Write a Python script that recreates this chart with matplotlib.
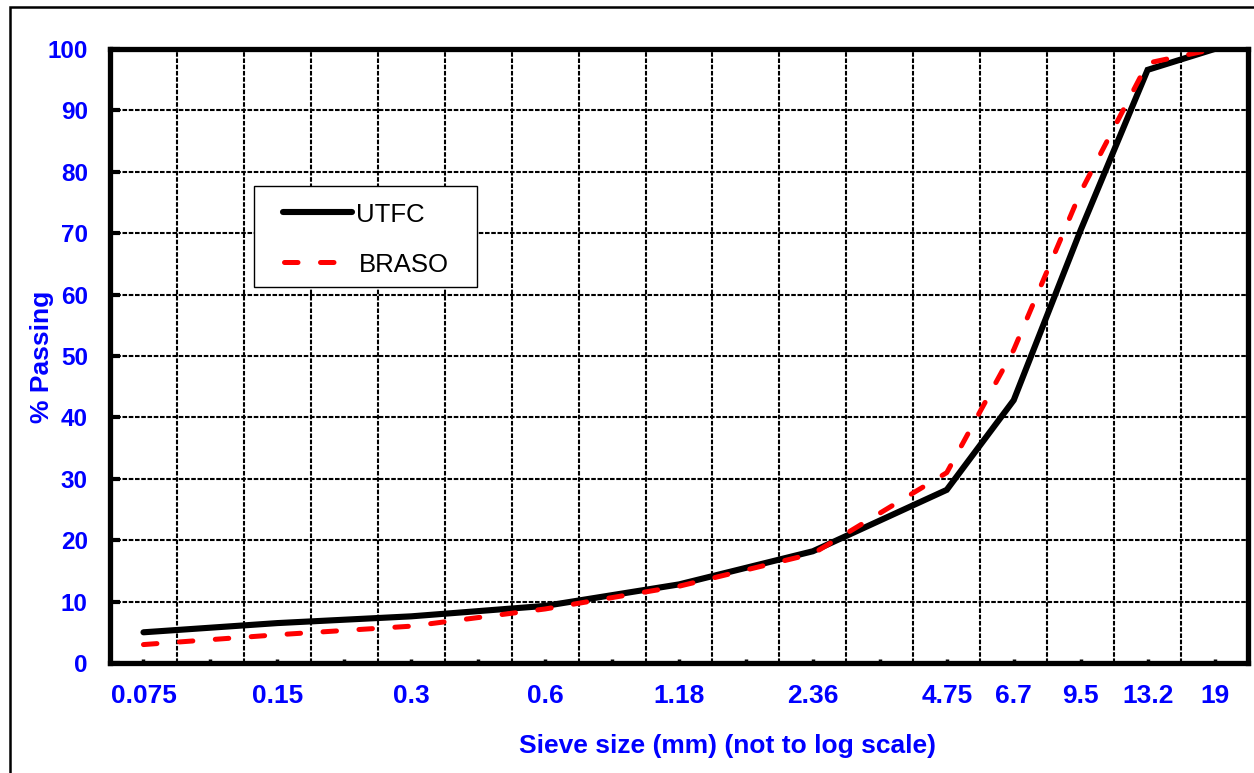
import matplotlib
matplotlib.use('Agg')
import matplotlib.pyplot as plt
from matplotlib.patches import Rectangle
from matplotlib.lines import Line2D
from matplotlib.ticker import MultipleLocator

# ---- data ----
sieve_labels = ['0.075', '0.15', '0.3', '0.6', '1.18', '2.36', '4.75', '6.7', '9.5', '13.2', '19']
sieve_pos = [0, 2, 4, 6, 8, 10, 12, 13, 14, 15, 16]   # chart position (not to log scale)
utfc = [5.0, 6.5, 7.6, 9.3, 12.8, 18.2, 28.2, 42.8, 70.5, 96.6, 100.0]
braso = [3.0, 4.6, 6.0, 8.8, 12.5, 17.8, 31.0, 51.0, 76.7, 97.7, 100.0]
y_ticks = list(range(0, 101, 10))
series_names = ['UTFC', 'BRASO']

plt.rcParams['font.family'] = ['Liberation Sans', 'DejaVu Sans']

W, H = 1254, 773
fig = plt.figure(figsize=(W / 100, H / 100), dpi=100)
ax = fig.add_axes([110 / W, 1 - 663 / H, (1248 - 110) / W, (663 - 49) / H])

blue = '#0000FF'
red = '#FF0000'
black_kw = dict(color='black', lw=4.4, solid_joinstyle='miter', solid_capstyle='round')
red_kw = dict(color=red, lw=3.6, dashes=(2.7, 4.5), dash_capstyle='round')

ax.plot(sieve_pos, utfc, zorder=4, **black_kw)
ax.plot(sieve_pos, braso, zorder=5, **red_kw)

ax.set_xlim(-0.5, 16.5)
ax.set_ylim(0, 100)

# gridlines
ax.xaxis.set_minor_locator(MultipleLocator(0.5))
ax.set_yticks(y_ticks)
grid_kw = dict(color='black', lw=1.5, linestyle=(0, (2.2, 0.8)), zorder=1)
ax.grid(which='minor', axis='x', **grid_kw)
ax.grid(which='major', axis='y', **grid_kw)

# x ticks: small inward marks at every unit, labels only at sieves
ax.set_xticks(range(0, 17))
lab = [''] * 17
for p, l in zip(sieve_pos, sieve_labels):
    lab[p] = l
ax.set_xticklabels(lab)
ax.tick_params(axis='x', which='major', direction='in', length=3, width=2.5, color='black',
               pad=15, labelsize=19, labelcolor=blue)
ax.tick_params(axis='x', which='minor', length=0)
ax.tick_params(axis='y', direction='in', length=7, width=3, color='black',
               pad=16, labelsize=17.5, labelcolor=blue)
for t in ax.get_xticklabels() + ax.get_yticklabels():
    t.set_fontweight('bold')

for s in ax.spines.values():
    s.set_linewidth(3.8)
    s.set_color('black')
    s.set_zorder(6)

# axis titles
fig.text(727 / W, 1 - 746 / H, 'Sieve size (mm) (not to log scale)', color=blue,
         fontsize=19, fontweight='bold', ha='center', va='center')
fig.text(42 / W, 1 - 357 / H, '% Passing', color=blue, fontsize=19, fontweight='bold',
         rotation=90, ha='center', va='center')

# legend box (drawn manually to match the original layout)
fig.add_artist(Rectangle((254 / W, 1 - 287 / H), (477 - 254) / W, (287 - 186) / H,
                         transform=fig.transFigure, facecolor='white', edgecolor='black',
                         lw=1.0, zorder=10))
fig.add_artist(Line2D([283 / W, 352 / W], [1 - 212 / H, 1 - 212 / H],
                      transform=fig.transFigure, zorder=11, **black_kw))
fig.add_artist(Line2D([284 / W, 352 / W], [1 - 262 / H, 1 - 262 / H],
                      transform=fig.transFigure, zorder=11, **red_kw))
fig.text(356 / W, 1 - 212 / H, series_names[0], fontsize=18.5, color='black',
         ha='left', va='center_baseline', zorder=12)
fig.text(359 / W, 1 - 262 / H, series_names[1], fontsize=18.5, color='black',
         ha='left', va='center_baseline', zorder=12)

# outer border
fig.patches.append(Rectangle((10 / W, -0.1), 1.2, (773 - 7) / H + 0.1,
                             transform=fig.transFigure, fill=False, edgecolor='black',
                             lw=1.8, zorder=0))

fig.savefig('out.png', dpi=100)
